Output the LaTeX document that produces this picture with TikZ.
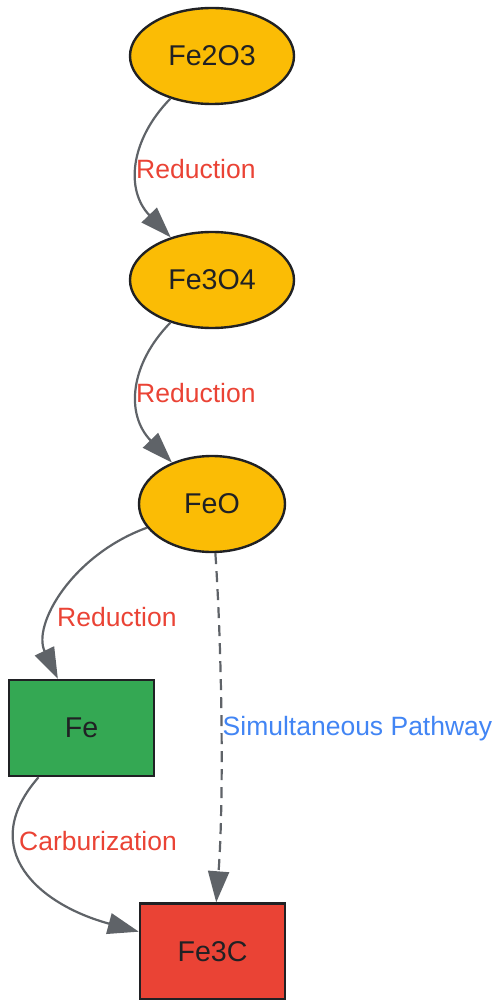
\documentclass[tikz,border=0pt]{standalone}
\usepackage{fontspec}
\setmainfont{Liberation Sans}
\usetikzlibrary{arrows.meta,shapes.geometric}
\definecolor{oxide}{HTML}{FBBC05}
\definecolor{iron}{HTML}{34A853}
\definecolor{carbide}{HTML}{EA4335}
\definecolor{edgegray}{HTML}{5F6368}
\definecolor{lblred}{HTML}{EA4335}
\definecolor{lblblue}{HTML}{4285F4}
\definecolor{outline}{HTML}{202124}
\tikzset{
  oxnode/.style={ellipse, draw=outline, line width=2.4pt, fill=oxide, minimum width=164pt, minimum height=96pt, inner sep=0pt, text=outline, font=\fontsize{28.6}{30}\selectfont},
  feonode/.style={oxnode, minimum width=146pt},
  boxnode/.style={rectangle, draw=outline, line width=2.4pt, minimum width=145pt, minimum height=96pt, inner sep=0pt, text=outline, font=\fontsize{28.6}{30}\selectfont},
  conn/.style={draw=edgegray, line width=2.2pt, -{Triangle[length=31pt,width=21pt]}},
  lbl/.style={anchor=west, inner sep=0pt, text=lblred, font=\fontsize{26.5}{28}\selectfont},
}
\begin{document}
\begin{tikzpicture}[x=1pt,y=-1pt]
\useasboundingbox (0,0) rectangle (494,1000);
\node[oxnode] (fe2o3) at (212,56) {Fe2O3};
\node[oxnode] (fe3o4) at (212,280) {Fe3O4};
\node[feonode] (feo) at (212,504) {FeO};
\node[boxnode, fill=iron] (fe) at (81.5,728) {Fe};
\node[boxnode, fill=carbide] (fe3c) at (212.5,951.5) {Fe3C};

\draw[conn] (fe2o3) .. controls (130,140) and (125,190) .. (fe3o4);
\draw[conn] (fe3o4) .. controls (130,364) and (125,414) .. (feo);
\draw[conn] (feo) .. controls (72,555) and (32,625) .. (fe);
\draw[conn, dashed, dash pattern=on 11pt off 7pt] (feo) .. controls (222,650) and (224,800) .. (fe3c);
\draw[conn] (fe) .. controls (-25,850) and (40,905) .. (fe3c);

\node[lbl] (l1) at (136,169) {Reduction};
\node[lbl] (l2) at (136,393) {Reduction};
\node[lbl] (l3) at (57,617) {Reduction};
\node[lbl, text=lblblue] (l4) at (222.5,729) {Simultaneous Pathway};
\node[lbl] (l5) at (19,841) {Carburization};
\end{tikzpicture}
\end{document}
